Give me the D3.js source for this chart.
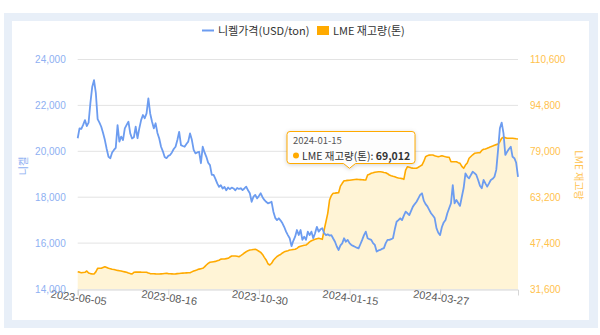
<!DOCTYPE html>
<html>
<head>
<meta charset="utf-8">
<script src="https://cdn.jsdelivr.net/npm/d3@7/dist/d3.min.js"></script>
<style>
  html, body { margin: 0; padding: 0; background: #fff; }
  svg { display: block; font-family: "Noto Sans CJK KR", "Noto Sans", sans-serif; }
</style>
</head>
<body>
<svg id="chart" width="600" height="335"></svg>
<script>
// Nickel price (USD/ton), one value per trading day
const nickelPrice = [
  20570, 21000, 20980, 21150, 21360, 21100, 21250, 22100, 22800, 23100,
  22550, 21400, 21250, 21070, 20800, 20490, 20100, 19760, 19700, 19950,
  20060, 20150, 21140, 20420, 20640, 20490, 21000, 21150, 21290, 20780,
  20560, 20610, 21070, 20570, 21000, 21360, 21580, 21440, 21650, 22310,
  21650, 21300, 21000, 21220, 20800, 20560, 20200, 20000, 19750, 19700,
  19800, 19840, 19950, 20100, 20200, 20490, 20850, 20270, 20230, 20200,
  20320, 20420, 20780, 20500, 20060, 19910, 19950, 19980, 19480, 20200,
  19950, 19760, 19500, 19400, 18970, 18970, 18800, 18600, 18450, 18520,
  18380, 18450, 18300, 18420, 18350, 18420, 18380, 18300, 18400, 18360,
  18390, 18310, 18380, 18460, 18300, 18170, 17800, 18020, 18100, 17950,
  18050, 18170, 18000, 17880, 17800, 17730, 17760, 17800, 17370, 17100,
  17000, 17080, 16980, 16860, 16700, 16500, 16350, 16210, 15870, 16100,
  16280, 16570, 16350, 16570, 16140, 16280, 16140, 16500, 16350, 16500,
  16210, 16430, 16710, 16500, 16600, 16650, 16430, 16350, 16380, 16330,
  16350, 16200, 16060, 15850, 15700, 15900, 15990, 16210, 16060, 16140,
  16000, 15920, 15880, 15840, 15800, 15770, 15950, 16140, 16350, 16500,
  16210, 16170, 16140, 16000, 15920, 15630, 15680, 15700, 15750, 15780,
  16000, 16140, 16140, 16170, 16210, 16600, 16930, 17000, 17080, 17000,
  17200, 17370, 17300, 17220, 17400, 17590, 17700, 17800, 17950, 18100,
  18170, 17850, 17700, 17600, 17450, 17300, 17200, 17090, 16650, 16450,
  16350, 16700, 16900, 17010, 17300, 17520, 17730, 18530, 17730, 17880,
  17750, 17620, 18020, 18400, 19040, 18900, 18820, 18970, 19110, 19050,
  18970, 18750, 18500, 18390, 18750, 18600, 18460, 18600, 18750, 18800,
  18890, 19190, 20060, 21000, 21250, 20780, 19840, 19980, 20100, 20200,
  19760, 19700, 19500, 18890
];

// LME nickel stocks (tonnes), same trading days
const lmeStock = [
  37550, 37400, 37210, 37300, 37350, 37800, 37100, 36900, 36800, 36760,
  37500, 38700, 38750, 38720, 39000, 39280, 39000, 38720, 38600, 38400,
  38300, 38150, 38000, 37900, 37800, 37650, 37500, 37350, 37100, 36900,
  36760, 37350, 37400, 37420, 37450, 37400, 37380, 37360, 37350, 37100,
  36900, 36870, 36850, 36800, 36780, 36760, 36800, 36850, 36950, 37000,
  36900, 36850, 36800, 36760, 36800, 36900, 36950, 37000, 37050, 37100,
  37150, 37200, 37210, 37500, 37800, 38000, 38200, 38450, 38600, 38720,
  39200, 39860, 40400, 40790, 40900, 41000, 41100, 41300, 41500, 41900,
  41930, 41930, 42050, 42170, 42600, 42960, 42960, 42950, 42850, 42720,
  43100, 43500, 44000, 44440, 44800, 45020, 45100, 45200, 45260, 45000,
  44600, 44200, 43500, 42500, 41600, 40300, 39860, 40450, 41500, 42200,
  42800, 43200, 43500, 44000, 44400, 44600, 44800, 45020, 45100, 45200,
  45260, 45600, 46100, 46300, 46500, 46650, 46750, 47200, 47800, 48220,
  48500, 48700, 48900, 49050, 48900, 48700, 51900, 54760, 57660, 62230,
  63800, 64540, 64600, 64700, 64750, 67000, 67980, 68880, 68900, 69000,
  69012, 69100, 69200, 69300, 69360, 69300, 69250, 69200, 69150, 69120,
  70840, 71100, 71420, 71600, 71800, 71900, 71970, 71950, 71850, 71700,
  71630, 71300, 70840, 70600, 70400, 70250, 70000, 69800, 69700, 69600,
  69360, 72560, 73700, 73500, 73300, 73200, 73150, 73150, 73500, 73900,
  74280, 75500, 77140, 77500, 77700, 77720, 77720, 77500, 77300, 77140,
  77300, 77480, 77300, 77140, 77000, 76930, 75420, 75420, 75420, 75420,
  75100, 74870, 73800, 73150, 74280, 75000, 76590, 77200, 77800, 78310,
  78400, 78500, 78520, 79300, 79690, 79800, 80030, 80300, 80600, 80820,
  81100, 81300, 81510, 82300, 83500, 83820, 83700, 83470, 83470, 83470,
  83470, 83400, 83300, 83230
];

// Category-axis labels, one every 50 trading days
const dateTicks = ["2023-06-05", "2023-08-16", "2023-10-30", "2024-01-15", "2024-03-27"];
const tickStep = 50;

const priceTicks = [14000, 16000, 18000, 20000, 22000, 24000];
const stockTicks = [31600, 47400, 63200, 79000, 94800, 110600];

const seriesNames = ["니켈가격(USD/ton)", "LME 재고량(톤)"];
const leftTitle = "니켈";
const rightTitle = "LME 재고량";

// Highlighted point shown in the tooltip
const focusIndex = 150;
const focusDate = "2024-01-15";

const colors = {
  price: "#6c9cf0",
  stock: "#ffaa00",
  area: "#fff4d6",
  leftText: "#8eb0f2",
  rightText: "#ffc24d",
  grid: "#e3e3e3",
  frame: "#e8eff8"
};

const svg = d3.select("#chart");

// Page frame
svg.append("rect").attr("x", 4).attr("y", 13).attr("width", 594).attr("height", 315).attr("fill", colors.frame);
svg.append("rect").attr("x", 12).attr("y", 21).attr("width", 577).attr("height", 299).attr("fill", "#fff");

const plot = { left: 77.7, right: 518, top: 59.5, bottom: 289 };

const x = d3.scaleLinear().domain([0, nickelPrice.length - 1]).range([plot.left, plot.right]);
const yPrice = d3.scaleLinear().domain([d3.min(priceTicks), d3.max(priceTicks)]).range([plot.bottom, plot.top]);
const yStock = d3.scaleLinear().domain([d3.min(stockTicks), d3.max(stockTicks)]).range([plot.bottom, plot.top]);

// Horizontal grid lines
svg.append("g")
  .selectAll("line")
  .data(priceTicks)
  .join("line")
  .attr("x1", plot.left).attr("x2", plot.right)
  .attr("y1", d => yPrice(d)).attr("y2", d => yPrice(d))
  .attr("stroke", colors.grid).attr("stroke-width", 1);

// Stock area + line
const area = d3.area()
  .x((d, i) => x(i))
  .y0(plot.bottom)
  .y1(d => yStock(d));
svg.append("path").datum(lmeStock).attr("d", area).attr("fill", colors.area);

const stockLine = d3.line().x((d, i) => x(i)).y(d => yStock(d));
svg.append("path").datum(lmeStock).attr("d", stockLine)
  .attr("fill", "none").attr("stroke", colors.stock).attr("stroke-width", 1.6)
  .attr("stroke-linejoin", "round");

// Price line
const priceLine = d3.line().x((d, i) => x(i)).y(d => yPrice(d));
svg.append("path").datum(nickelPrice).attr("d", priceLine)
  .attr("fill", "none").attr("stroke", colors.price).attr("stroke-width", 1.8)
  .attr("stroke-linejoin", "round");

// X axis
const xTickIdx = dateTicks.map((d, i) => i * tickStep);
const xAxis = d3.axisBottom(x)
  .tickValues(xTickIdx)
  .tickSize(6)
  .tickFormat((d, i) => dateTicks[i]);
const gx = svg.append("g").attr("transform", `translate(0,${plot.bottom + 0.5})`).call(xAxis);
gx.select(".domain").attr("stroke", "#d6d6d6");
gx.selectAll(".tick line").attr("stroke", "#d6d6d6");
gx.selectAll(".tick text")
  .attr("fill", "#5a5a5a")
  .attr("font-size", 11)
  .attr("y", 0).attr("dy", 0)
  .attr("text-anchor", "middle")
  .attr("transform", "translate(0,12) rotate(8)");

// Left axis
const gl = svg.append("g").attr("transform", `translate(${plot.left - 12},0)`)
  .call(d3.axisLeft(yPrice).tickValues(priceTicks).tickSize(0).tickFormat(d3.format(",")));
gl.select(".domain").remove();
gl.selectAll(".tick text").attr("fill", colors.leftText).attr("font-size", 10).attr("x", 0);

// Right axis
const gr = svg.append("g").attr("transform", `translate(${plot.right + 12},0)`)
  .call(d3.axisRight(yStock).tickValues(stockTicks).tickSize(0).tickFormat(d3.format(",")));
gr.select(".domain").remove();
gr.selectAll(".tick text").attr("fill", colors.rightText).attr("font-size", 10).attr("x", 0);

// Axis titles
svg.append("text")
  .attr("transform", "translate(22,166) rotate(-90)")
  .attr("text-anchor", "middle").attr("dominant-baseline", "central")
  .attr("font-size", 10).attr("fill", colors.leftText)
  .text(leftTitle);
svg.append("text")
  .attr("transform", "translate(579,175) rotate(90)")
  .attr("text-anchor", "middle").attr("dominant-baseline", "central")
  .attr("font-size", 10).attr("fill", colors.rightText)
  .text(rightTitle);

// Legend
const lg = svg.append("g");
lg.append("line").attr("x1", 202).attr("x2", 214).attr("y1", 30.5).attr("y2", 30.5)
  .attr("stroke", colors.price).attr("stroke-width", 2);
lg.append("text").attr("x", 218).attr("y", 34.5).attr("font-size", 11).attr("fill", "#333")
  .text(seriesNames[0]);
lg.append("rect").attr("x", 317).attr("y", 26).attr("width", 12).attr("height", 9)
  .attr("fill", colors.stock);
lg.append("text").attr("x", 333).attr("y", 34.5).attr("font-size", 11).attr("fill", "#333")
  .text(seriesNames[1]);

// Tooltip for the highlighted day
const fx = x(focusIndex);
const fy = yStock(lmeStock[focusIndex]);
const tip = svg.append("g");
const bx = 287, by = 131.5, bw = 128, bh = 32;
const tipPath = `M${bx + 3},${by} H${bx + bw - 3} Q${bx + bw},${by} ${bx + bw},${by + 3} V${by + bh - 3} Q${bx + bw},${by + bh} ${bx + bw - 3},${by + bh}` +
  ` H${fx + 6} L${fx},${fy - 12} L${fx - 6},${by + bh} H${bx + 3} Q${bx},${by + bh} ${bx},${by + bh - 3} V${by + 3} Q${bx},${by} ${bx + 3},${by} Z`;
tip.append("path").attr("d", tipPath)
  .attr("fill", "rgba(255,255,255,0.95)").attr("stroke", colors.stock).attr("stroke-width", 1)
  .style("filter", "drop-shadow(0px 1px 2px rgba(0,0,0,0.18))");
tip.append("text").attr("x", bx + 6).attr("y", by + 12.5).attr("font-size", 9.5).attr("fill", "#555")
  .text(focusDate);
tip.append("circle").attr("cx", bx + 9).attr("cy", by + 24).attr("r", 3).attr("fill", colors.stock);
const t2 = tip.append("text").attr("x", bx + 15).attr("y", by + 28).attr("font-size", 10.5).attr("fill", "#333");
t2.append("tspan").text(seriesNames[1] + ": ");
t2.append("tspan").attr("font-weight", "bold").text(d3.format(",")(lmeStock[focusIndex]));
</script>
</body>
</html>
